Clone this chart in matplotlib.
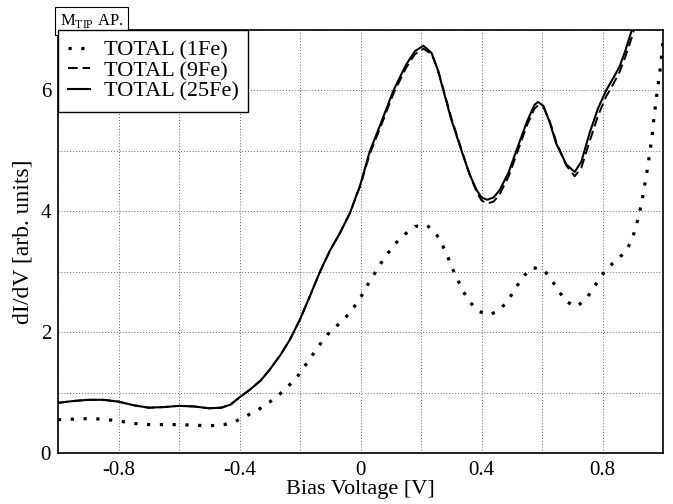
import matplotlib
matplotlib.use("Agg")
from matplotlib import pyplot as plt
from matplotlib.ticker import MultipleLocator

# TOTAL (1Fe) - dotted
v_1fe = [-1.0, -0.95, -0.9, -0.85, -0.8, -0.75, -0.7, -0.65, -0.6, -0.55,
         -0.5, -0.45, -0.415, -0.375, -0.334, -0.301, -0.268, -0.236, -0.208, -0.184,
         -0.159, -0.135, -0.109, -0.079, -0.048, -0.022, 0.001, 0.022, 0.044, 0.066,
         0.090, 0.116, 0.147, 0.180, 0.220, 0.251, 0.271, 0.289, 0.304, 0.322,
         0.340, 0.363, 0.391, 0.430, 0.465, 0.492, 0.514, 0.538, 0.568, 0.606,
         0.632, 0.655, 0.678, 0.714, 0.746, 0.769, 0.792, 0.818, 0.849, 0.879,
         0.898, 0.911, 0.921, 0.930, 0.937, 0.944, 0.951, 0.956, 0.963, 0.967,
         0.972, 0.977, 0.982, 0.988, 0.993, 0.997, 1.0]
d_1fe = [0.55, 0.56, 0.57, 0.56, 0.53, 0.49, 0.47, 0.47, 0.47, 0.46,
         0.45, 0.47, 0.52, 0.62, 0.73, 0.84, 0.97, 1.12, 1.27, 1.44,
         1.62, 1.79, 1.96, 2.10, 2.25, 2.41, 2.58, 2.77, 2.95, 3.13,
         3.30, 3.47, 3.62, 3.75, 3.77, 3.62, 3.44, 3.24, 3.05, 2.86,
         2.67, 2.49, 2.34, 2.29, 2.39, 2.56, 2.74, 2.92, 3.07, 3.03,
         2.86, 2.69, 2.51, 2.42, 2.55, 2.72, 2.90, 3.07, 3.20, 3.35,
         3.54, 3.75, 3.95, 4.15, 4.36, 4.57, 4.77, 4.98, 5.19, 5.40,
         5.62, 5.83, 6.03, 6.24, 6.46, 6.67, 6.80]

# TOTAL (9Fe) / (25Fe) share the same voltage grid
v_big = [-1.0, -0.95, -0.9, -0.85, -0.8, -0.75, -0.7, -0.65, -0.6, -0.55,
         -0.5, -0.46, -0.43, -0.4, -0.365, -0.33, -0.3, -0.265, -0.233, -0.2,
         -0.167, -0.134, -0.101, -0.068, -0.035, 0.0, 0.03, 0.065, 0.109, 0.15,
         0.18, 0.208, 0.235, 0.255, 0.274, 0.30, 0.334, 0.36, 0.384, 0.40,
         0.419, 0.44, 0.46, 0.49, 0.515, 0.55, 0.575, 0.587, 0.605, 0.625,
         0.647, 0.68, 0.708, 0.73, 0.757, 0.785, 0.812, 0.835, 0.856, 0.875,
         0.897, 0.92]
d_25fe = [0.83, 0.86, 0.88, 0.88, 0.85, 0.79, 0.75, 0.76, 0.78, 0.77,
          0.74, 0.75, 0.80, 0.92, 1.05, 1.20, 1.38, 1.62, 1.88, 2.21,
          2.60, 3.00, 3.35, 3.64, 3.97, 4.45, 4.98, 5.43, 6.00, 6.42,
          6.65, 6.74, 6.62, 6.35, 6.00, 5.52, 5.00, 4.62, 4.35, 4.23,
          4.19, 4.23, 4.35, 4.65, 5.00, 5.48, 5.76, 5.81, 5.74, 5.48,
          5.12, 4.78, 4.65, 4.82, 5.29, 5.70, 6.00, 6.20, 6.39, 6.65,
          7.00, 7.40]
d_9fe = [0.83, 0.86, 0.88, 0.88, 0.85, 0.79, 0.75, 0.76, 0.78, 0.77,
         0.74, 0.75, 0.80, 0.92, 1.05, 1.20, 1.38, 1.62, 1.88, 2.21,
         2.60, 3.00, 3.35, 3.64, 3.97, 4.43, 4.94, 5.38, 5.95, 6.37,
         6.60, 6.69, 6.60, 6.36, 6.02, 5.55, 5.02, 4.62, 4.32, 4.18,
         4.13, 4.16, 4.28, 4.58, 4.93, 5.42, 5.70, 5.75, 5.72, 5.50,
         5.15, 4.76, 4.58, 4.72, 5.15, 5.58, 5.90, 6.10, 6.30, 6.55,
         6.88, 7.30]

plt.rcParams['font.family'] = ['Liberation Serif', 'DejaVu Serif']
plt.rcParams['mathtext.fontset'] = 'custom'
plt.rcParams['mathtext.rm'] = 'Liberation Serif'

fig = plt.figure(figsize=(6.73, 5.04), dpi=100)
ax = fig.add_axes([58 / 673, 51 / 504, 605 / 673, 423 / 504])

ax.plot(v_1fe, d_1fe, color='black', lw=2.3, linestyle=(0, (1, 3.0)),
        dash_capstyle='butt', label='TOTAL (1Fe)')
ax.plot(v_big, d_9fe, color='black', lw=1.4, linestyle=(0, (5, 2.5)),
        label='TOTAL (9Fe)')
ax.plot(v_big, d_25fe, color='black', lw=1.5, label='TOTAL (25Fe)')

ax.set_xlim(-1, 1)
ax.set_ylim(0, 7)
ax.xaxis.set_minor_locator(MultipleLocator(0.2))
ax.yaxis.set_minor_locator(MultipleLocator(1))
ax.set_xticks([-0.8, -0.4, 0, 0.4, 0.8])
ax.set_xticklabels(['-0.8', '-0.4', '0', '0.4', '0.8'])
ax.set_yticks([0, 2, 4, 6])
ax.set_yticklabels(['0', '2', '4', '6'])
ax.grid(True, which='both', color='0.4', lw=0.7, linestyle=(0, (1, 2)))
ax.tick_params(which='both', length=0, labelsize=15)
ax.tick_params(axis='x', pad=6)
ax.tick_params(axis='y', pad=5)
for s in ax.spines.values():
    s.set_linewidth(1.2)

ax.set_xlabel('Bias Voltage [V]', fontsize=16, labelpad=0)
ax.set_ylabel('dI/dV [arb. units]', fontsize=17)
ax.yaxis.set_label_coords(-0.04, 0.5)

leg = ax.legend(loc='upper left', bbox_to_anchor=(0, 1), borderaxespad=0,
                fontsize=16, fancybox=False, framealpha=1, edgecolor='black',
                handlelength=1.0, handletextpad=0.6, borderpad=0.45,
                labelspacing=0.0)
leg.get_frame().set_linewidth(1.0)

ax.text(0.003, 1.0, r'M$_{\rm TIP}$ AP.', transform=ax.transAxes, fontsize=12,
        ha='left', va='bottom',
        bbox=dict(boxstyle='square,pad=0.3', fc='white', ec='black', lw=0.8))

fig.savefig('out.png', dpi=100)
